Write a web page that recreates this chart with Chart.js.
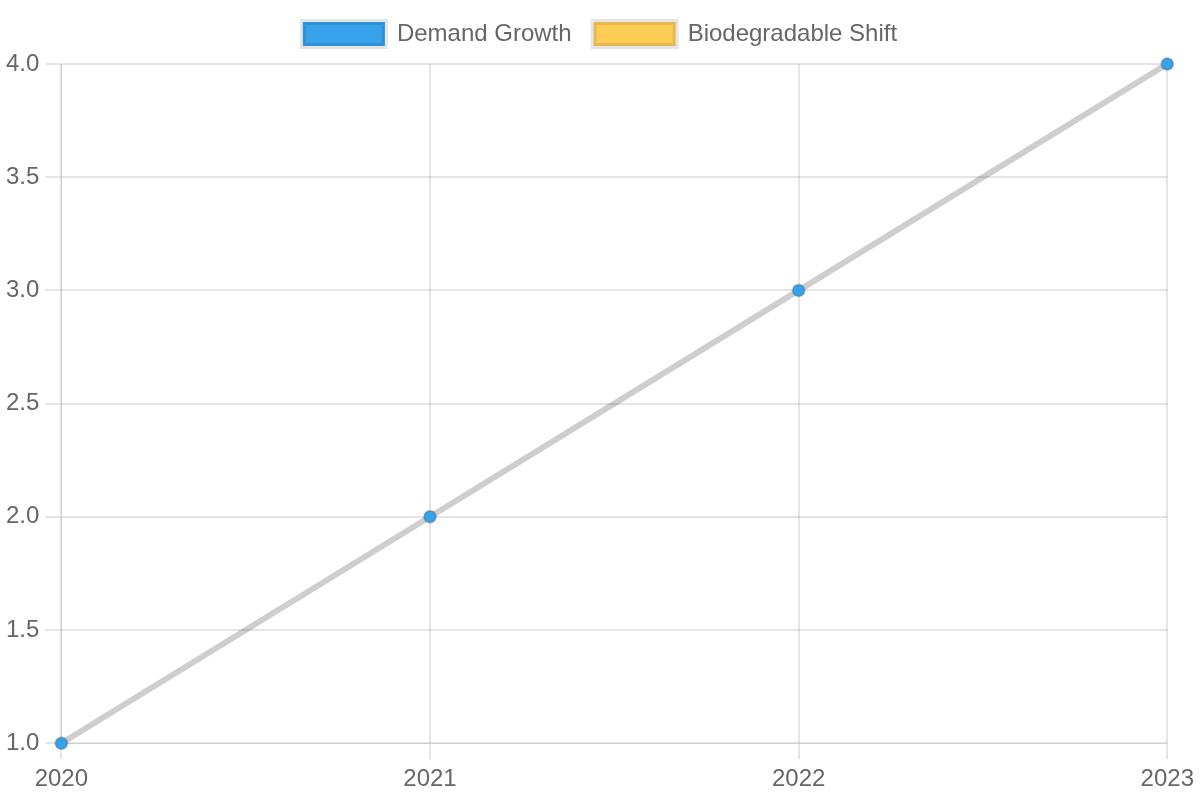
<!DOCTYPE html>
<html>
<head>
<meta charset="utf-8">
<script src="https://cdn.jsdelivr.net/npm/chart.js@4/dist/chart.umd.min.js"></script>
<style>
html,body{margin:0;padding:0;background:#fff;}
#wrap{width:1200px;height:800px;position:relative;}
</style>
</head>
<body>
<div id="wrap"><canvas id="c"></canvas></div>
<script>
const years = ['2020', '2021', '2022', '2023'];
const demandGrowth = [1, 2, 3, 4];
const biodegradableShift = [1, 2, 3, 4];
const seriesNames = ['Demand Growth', 'Biodegradable Shift'];

Chart.defaults.font.size = 24;
Chart.defaults.color = '#666';

const legendGap = {
  id: 'legendGap',
  afterInit(chart) {
    const lg = chart.legend;
    if (!lg) return;
    const orig = lg.fit;
    lg.fit = function () {
      orig.call(this);
      this.height += 8;
    };
  }
};

new Chart(document.getElementById('c'), {
  type: 'line',
  data: {
    labels: years,
    datasets: [
      {
        label: seriesNames[0],
        data: demandGrowth,
        backgroundColor: 'rgb(54,162,235)',
        borderColor: 'rgba(0,0,0,0.1)',
        borderWidth: 6,
        pointRadius: 6,
        pointBorderWidth: 2
      },
      {
        label: seriesNames[1],
        data: biodegradableShift,
        backgroundColor: 'rgb(255,205,86)',
        borderColor: 'rgba(0,0,0,0.1)',
        borderWidth: 6,
        pointRadius: 6,
        pointBorderWidth: 2
      }
    ]
  },
  plugins: [legendGap],
  options: {
    responsive: true,
    maintainAspectRatio: false,
    animation: false,
    plugins: {
      legend: {
        labels: { boxWidth: 82, boxHeight: 24, padding: 22 }
      },
      tooltip: { enabled: false }
    },
    scales: {
      x: {
        grid: { lineWidth: 2, tickLength: 16 },
        ticks: { padding: 6 }
      },
      y: {
        grid: { lineWidth: 2, tickLength: 16 },
        ticks: { padding: 6 }
      }
    }
  }
});
</script>
</body>
</html>
